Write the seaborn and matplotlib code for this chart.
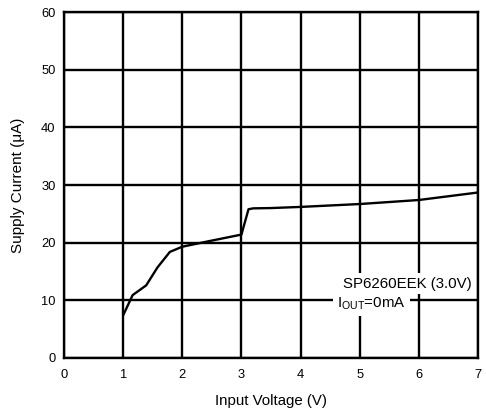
import matplotlib
matplotlib.use("Agg")
import matplotlib.pyplot as plt
import seaborn as sns
import pandas as pd

# supply current vs input voltage
input_voltage = [1.0, 1.16, 1.39, 1.58, 1.79, 2.0, 2.47, 3.0, 3.12, 3.2, 3.5, 4.0, 5.0, 6.0, 7.0]
supply_current = [7.4, 10.9, 12.6, 15.7, 18.4, 19.3, 20.3, 21.4, 25.8, 25.95, 26.0, 26.2, 26.7, 27.4, 28.7]

x_ticks = [0, 1, 2, 3, 4, 5, 6, 7]
y_ticks = [0, 10, 20, 30, 40, 50, 60]

df = pd.DataFrame({"Input Voltage (V)": input_voltage, "Supply Current": supply_current})

sns.set_theme(style="white")
plt.rcParams["font.family"] = ["Liberation Sans", "DejaVu Sans"]

fig = plt.figure(figsize=(4.86, 4.17), dpi=100)
ax = fig.add_axes([0.1317, 0.1415, 0.8518, 0.8297])

sns.lineplot(data=df, x="Input Voltage (V)", y="Supply Current", color="black",
             linewidth=1.7, ax=ax, zorder=3)

ax.set_xlim(0, 7)
ax.set_ylim(0, 60)
ax.set_xticks(x_ticks)
ax.set_yticks(y_ticks)
ax.grid(True, color="black", linewidth=1.7)
ax.set_axisbelow(True)
for s in ax.spines.values():
    s.set_color("black")
    s.set_linewidth(1.7)
ax.tick_params(axis="both", length=0, labelsize=9.3, colors="black")
ax.tick_params(axis="x", pad=8)
ax.tick_params(axis="y", pad=6)
ax.set_xlabel("Input Voltage (V)", fontsize=10.8, color="black", labelpad=9)
ax.set_ylabel("Supply Current (\u03bcA)", fontsize=11, color="black", labelpad=12)

ax.text(4.72, 12.9, "SP6260EEK (3.0V)", fontsize=10.8, color="black",
        ha="left", va="center", zorder=4,
        bbox=dict(facecolor="white", edgecolor="none", pad=2.5))
ax.text(4.62, 9.5, "I$_{\\mathregular{OUT}}$=0mA", fontsize=10.8, color="black",
        ha="left", va="center", zorder=4,
        bbox=dict(facecolor="white", edgecolor="none", pad=3))

fig.savefig("out.png", dpi=100)
